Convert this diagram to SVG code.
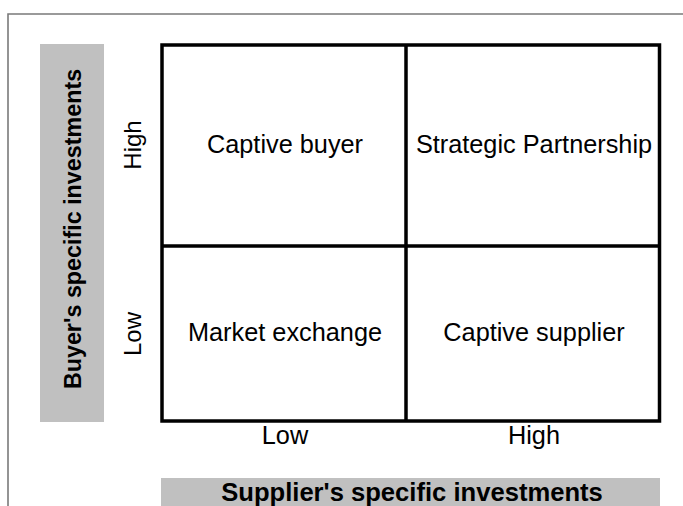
<svg xmlns="http://www.w3.org/2000/svg" width="683" height="506" viewBox="0 0 683 506">
<style>
text{font-family:"Liberation Sans",Arial,sans-serif;font-size:25.3px;fill:#000}
.c{text-anchor:middle}
.b{font-weight:bold}
.v{font-size:24px}
.vb{font-size:23.3px}
.xb{font-size:25.6px}
.bar{fill:#c0c0c0}
.grid{stroke:#000;stroke-width:3.5;fill:none}
</style>
<rect width="683" height="506" fill="#fff"/>
<path d="M8,506 V14 H683" fill="none" stroke="#7a7a7a" stroke-width="1.6"/>
<g id="y-axis">
<rect class="bar" x="40" y="44" width="64" height="378"/>
<text class="c b vb" transform="translate(80.5,229) rotate(-90)">Buyer's specific investments</text>
<text class="c v" transform="translate(141,145) rotate(-90)">High</text>
<text class="c v" transform="translate(141,334) rotate(-90)">Low</text>
</g>
<g id="x-axis">
<rect class="bar" x="161" y="478" width="499" height="28"/>
<text class="c b xb" x="412" y="501">Supplier's specific investments</text>
<text class="c" x="285" y="444">Low</text>
<text class="c" x="534" y="444">High</text>
</g>
<g id="grid">
<rect class="grid" x="162" y="45" width="497.5" height="376"/>
<path class="grid" d="M406,45 V421 M162,246 H659.5"/>
</g>
<g id="captive-buyer"><text class="c" x="285" y="153">Captive buyer</text></g>
<g id="strategic-partnership"><text class="c" x="534" y="153">Strategic Partnership</text></g>
<g id="market-exchange"><text class="c" x="285" y="341">Market exchange</text></g>
<g id="captive-supplier"><text class="c" x="534" y="341">Captive supplier</text></g>
</svg>
